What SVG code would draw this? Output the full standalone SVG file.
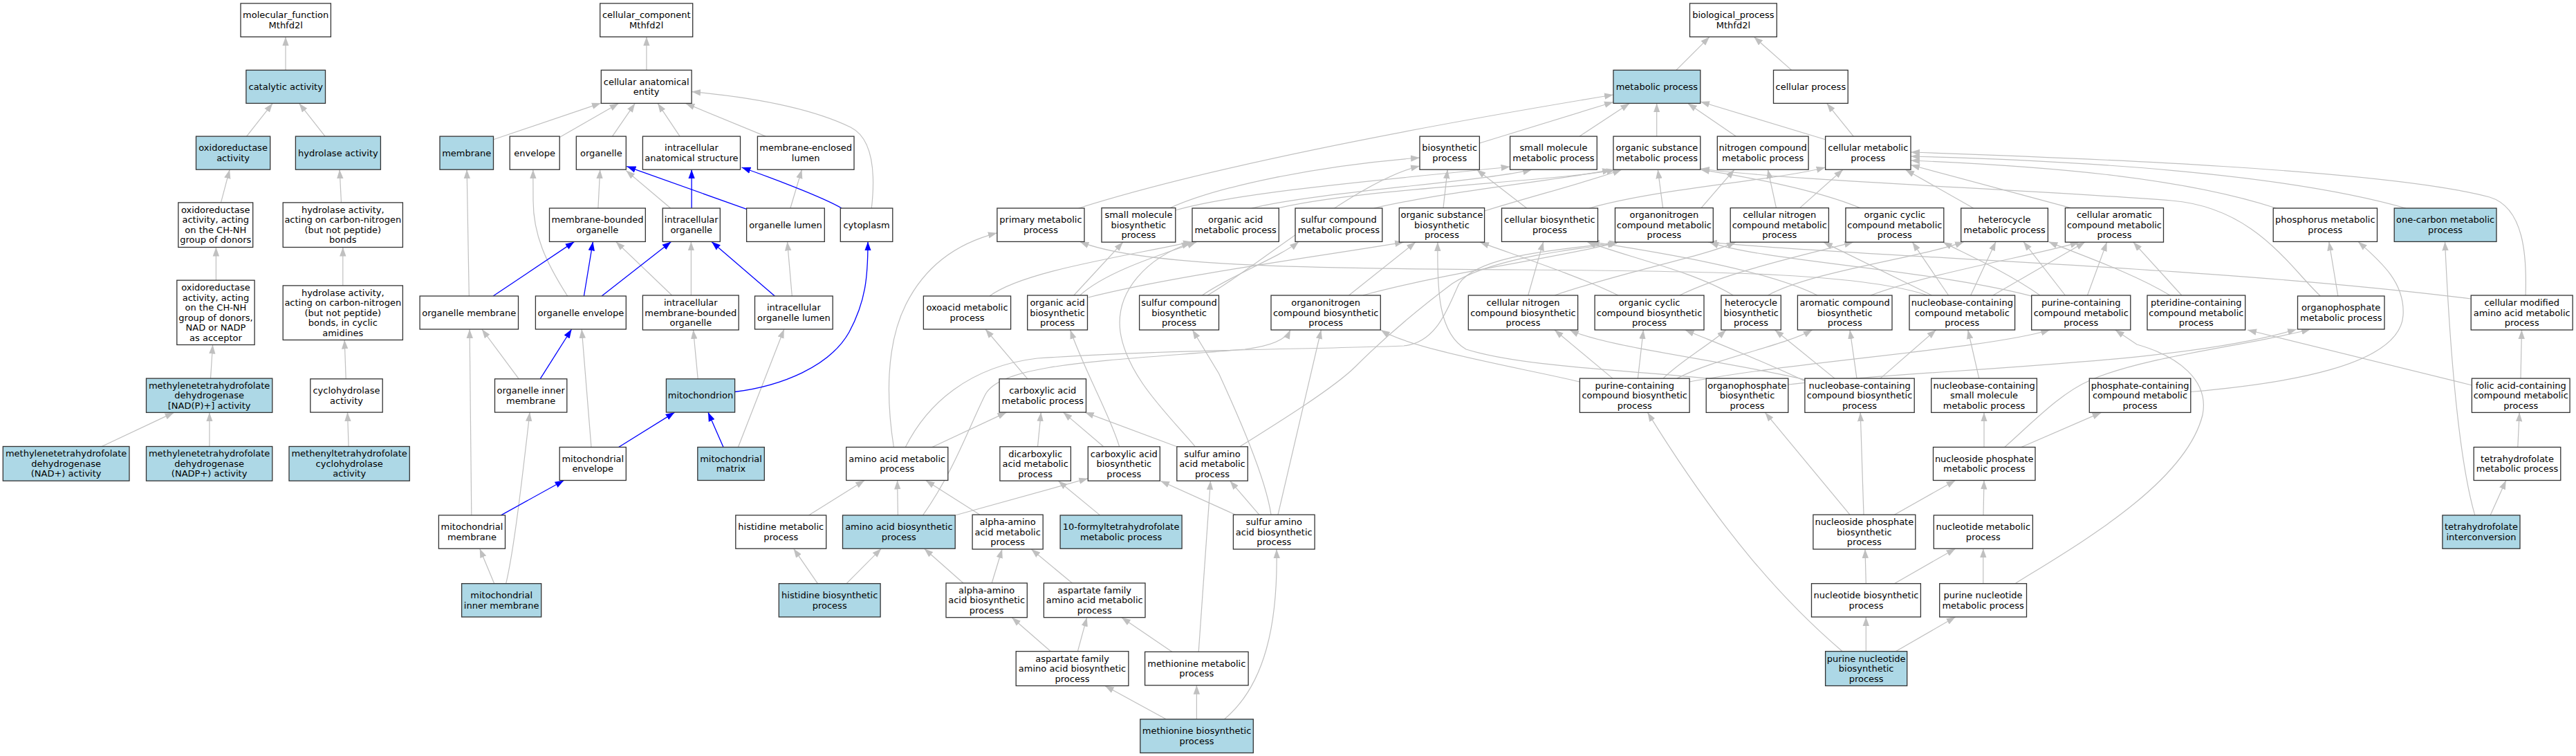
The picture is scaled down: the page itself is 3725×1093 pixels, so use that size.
<svg xmlns="http://www.w3.org/2000/svg" width="3725" height="1093" viewBox="0 0 3725 1093">
<style>
.n rect{fill:#fff;stroke:#333;stroke-width:1.3}
.n.b rect{fill:#add8e6}
.n text{font-family:"DejaVu Sans","Liberation Sans",sans-serif;font-size:13px;text-anchor:middle;fill:#000}
#edges path{fill:none;stroke:#c0c0c0;stroke-width:1.2;marker-end:url(#ag)}
#edges path.bl{stroke:#0000ff;stroke-width:1.3;marker-end:url(#ab)}
</style>
<defs>
<marker id="ag" markerUnits="userSpaceOnUse" markerWidth="14" markerHeight="10" refX="13" refY="5" orient="auto"><path d="M0,0.3 L13,5 L0,9.7 z" fill="#c0c0c0"/></marker>
<marker id="ab" markerUnits="userSpaceOnUse" markerWidth="14" markerHeight="10" refX="13" refY="5" orient="auto"><path d="M0,0.3 L13,5 L0,9.7 z" fill="#0000ff"/></marker>
</defs>
<rect x="0" y="0" width="3725" height="1093" fill="#fff"/>
<g id="edges">
<path d="M413,101.4 L413,53.3"/>
<path d="M356.6,197.1 L394.2,149.4"/>
<path d="M470.1,197.1 L432.6,149.4"/>
<path d="M319.5,292.9 L332.1,245.2"/>
<path d="M493.5,292.9 L491.1,245.2"/>
<path d="M312.4,405.2 L312.4,357.5"/>
<path d="M495.8,412.9 L495.8,357.5"/>
<path d="M304.5,547.1 L307.6,498.5"/>
<path d="M500.2,547.8 L498.2,491.5"/>
<path d="M147.1,645.5 L251.5,596.4"/>
<path d="M302.9,645.5 L302.9,596.4"/>
<path d="M504.1,645.5 L502.5,596.1"/>
<path d="M934.9,101.4 L934.9,53.3"/>
<path d="M713.5,201.7 L868.9,149.1"/>
<path d="M809.2,198.6 L894.6,149.4"/>
<path d="M885.5,197.1 L918.3,149.4"/>
<path d="M983.1,197.1 L951.1,149.4"/>
<path d="M1107.3,197.1 L991.4,149.4"/>
<path d="M1260.3,301 C1266,250 1262,200 1230,184 C1170,155 1080,140 1000.1,132.6"/>
<path d="M864.9,301 L867.7,245.2"/>
<path d="M969.7,301 L905.3,246.6"/>
<path d="M1142.9,301 L1159.5,245.2"/>
<path d="M820.6,428 C790,380 771,340 771,290 L770.8,245.2"/>
<path d="M971.7,427 L890.6,349.4"/>
<path d="M999.4,427 L999.4,349.4"/>
<path d="M1145.3,428 L1138.5,349.4"/>
<path d="M678.3,428 L675.1,245.2"/>
<path d="M750.3,547.8 L696.9,476"/>
<path d="M855,646.5 L841.2,476"/>
<path d="M681.8,744.9 L679.1,476"/>
<path d="M1009.2,547.8 L1002.5,477"/>
<path d="M1067.4,646.5 L1133.8,476"/>
<path d="M714.7,843.7 L693.7,793.2"/>
<path d="M731.7,843.7 C742,800 752,720 766.1,596.1"/>
<path class="bl" d="M1079.6,302.4 L906.4,240.6"/>
<path class="bl" d="M1000.1,301 L1000.1,245.2"/>
<path class="bl" d="M1217,301 C1190,285 1110,255 1072.5,242"/>
<path class="bl" d="M713.1,428 L830.5,349.4"/>
<path class="bl" d="M844.4,428 L857.4,349.4"/>
<path class="bl" d="M870.1,428 L970.5,349.4"/>
<path class="bl" d="M1120.3,428 L1029,349.4"/>
<path class="bl" d="M781.1,547.8 L826.6,476"/>
<path class="bl" d="M1062.6,566.5 C1130,558 1200,530 1228,480 C1252,435 1255,400 1255,349.4"/>
<path class="bl" d="M894.6,646.5 L975.6,596.1"/>
<path class="bl" d="M1046,646.5 L1023.9,596.1"/>
<path class="bl" d="M724.5,744.9 L815.5,694.5"/>
<path d="M2423.9,101.4 L2472,53.3"/>
<path d="M2590.6,101.4 L2536.3,53.3"/>
<path d="M2680.2,197.1 L2641.6,149.4"/>
<path d="M2639.6,201.7 L2459,147"/>
<path d="M2510.2,197.1 L2440.7,149.4"/>
<path d="M2395.7,197.1 L2395.7,149.4"/>
<path d="M2284,197.1 L2356.3,149.4"/>
<path d="M2139.4,207 L2333,147.5"/>
<path d="M1559.6,301 Q1800,225 2333,137"/>
<path d="M1692,300.6 C1760,270 1900,240 2053,228"/>
<path d="M1699.8,304 C1800,275 2060,255 2183.6,241"/>
<path d="M1810,301 C1900,278 2150,262 2215,245.2"/>
<path d="M1840,303 C1960,272 2260,262 2336,245.2"/>
<path d="M1986.7,301 C2100,275 2260,260 2330,245.2"/>
<path d="M2146.6,305 C2210,285 2300,262 2345,245.2"/>
<path d="M2087,300.6 L2093.2,245.2"/>
<path d="M2207.7,301 L2135.4,245.2"/>
<path d="M2298,301 C2400,272 2560,262 2639.6,242"/>
<path d="M2404.6,300.6 L2397.3,245.2"/>
<path d="M2460,300.6 L2508,245.2"/>
<path d="M2568.5,300.6 L2556.4,245.2"/>
<path d="M2602.6,300.6 L2665,245.2"/>
<path d="M2690,300.6 C2620,272 2520,255 2459,245.2"/>
<path d="M2853.8,301 L2755.3,245.2"/>
<path d="M2994.4,300.6 L2763,238.5"/>
<path d="M3291.5,301 C3150,255 2950,240 2763,232"/>
<path d="M3478.8,301 C3300,250 3000,232 2763,226"/>
<path d="M3652.1,427 C3654,370 3650,300 3600,285 C3450,245 3000,228 2763,220"/>
<path d="M3573,432 C3200,385 2700,372 2470,350.1"/>
<path d="M1431,428 C1480,392 1620,372 1724,349.4"/>
<path d="M1561.6,427 C1600,392 1680,368 1730,350.1"/>
<path d="M1552.8,427 L1623.9,350.1"/>
<path d="M1573.7,430 C1700,398 1900,372 2030,350.1"/>
<path d="M1738.4,427 C1780,398 1850,372 1878,349.4"/>
<path d="M1746,427 C1820,385 1960,262 2053,240"/>
<path d="M1970.6,427 C2100,392 2260,372 2340,350.1"/>
<path d="M1950.5,427 L2047,350.1"/>
<path d="M2209.7,427 L2231.8,349.4"/>
<path d="M2248,427 C2350,392 2460,372 2510,350.1"/>
<path d="M2340,427 C2280,398 2200,372 2140,350.1"/>
<path d="M2428.7,427 C2500,392 2620,366 2680,350.1"/>
<path d="M2556.4,427 C2620,392 2780,372 2840,349.4"/>
<path d="M2506.2,427 C2450,392 2340,368 2295,349.4"/>
<path d="M2705,427 C2800,392 2950,368 3006.5,350.1"/>
<path d="M2628,427 C2550,388 2380,362 2300,349.4"/>
<path d="M2793.5,427 L2636.8,350.1"/>
<path d="M2817.6,427 L2765.4,350.1"/>
<path d="M2849.7,427 L2886,349.4"/>
<path d="M2881.9,427 L3015,350.1"/>
<path d="M2986.4,427 L2926,349.4"/>
<path d="M3018.5,427 L3046.6,350.1"/>
<path d="M2950,427 C2900,392 2840,366 2809.6,350.1"/>
<path d="M2945,430 C2800,390 2550,378 2472,350.1"/>
<path d="M3154.8,427 L3084.8,350.1"/>
<path d="M3138,427 C3080,392 3000,366 2962.3,349.4"/>
<path d="M3380.8,428 L3367.8,349.4"/>
<path d="M3355.3,428 C3310,385 3260,300 3140,290 C2900,272 2600,262 2459,244"/>
<path d="M2790,428 C2700,396 2500,392 2200,390 C1900,388 1650,386 1561.6,349.4"/>
<path d="M1486,547.8 L1425,476"/>
<path d="M2443,552 C2600,522 2870,505 2964.3,477"/>
<path d="M2284.4,552 C2200,532 2040,505 1996.7,477"/>
<path d="M2368.4,547.1 L2376.4,477"/>
<path d="M2332,547.1 L2247.9,477"/>
<path d="M2405,547.1 C2430,522 2470,500 2496,477"/>
<path d="M2425,547.1 C2480,518 2580,500 2620.7,477"/>
<path d="M2586,556 C2800,532 3150,528 3321,476"/>
<path d="M2470,547.1 C2350,535 2200,530 2120,505 C2080,482 2078,420 2079,350.1"/>
<path d="M2719,547.1 L2799.5,477"/>
<path d="M2653,547.1 L2566.5,477"/>
<path d="M2685,547.1 L2675,477"/>
<path d="M2612,552 C2550,522 2480,495 2436.7,477"/>
<path d="M2615,550 C2500,522 2320,502 2270,477"/>
<path d="M2861.8,547.1 L2845.7,477"/>
<path d="M3167.8,566.5 C3300,555 3470,530 3475,456 C3478,410 3445,380 3410,349.4"/>
<path d="M3574.4,557 L3250,477"/>
<path d="M3645,547.1 L3646.5,477"/>
<path d="M1347.9,646.5 L1455.5,596.1"/>
<path d="M1292.4,646.5 C1282,580 1280,500 1310,440 C1340,380 1390,350 1441.9,336.8"/>
<path d="M1309.3,646.5 C1340,585 1400,530 1500,518 C1700,505 1900,505 2030,500 C2080,495 2095,440 2110,410 C2140,365 2280,360 2340,350.1"/>
<path d="M1500.5,645.8 L1505.4,596.1"/>
<path d="M1595.8,645.8 L1537.5,596.1"/>
<path d="M1618.7,645.8 C1605,600 1570,540 1547.6,477"/>
<path d="M1701.8,645.8 L1568.8,596.1"/>
<path d="M1728.4,645.8 C1690,600 1630,545 1620,480 C1612,420 1660,372 1722,351"/>
<path d="M1792.7,645.8 C1850,610 1930,560 1960,530 C2010,480 2060,440 2100,410 C2160,372 2280,360 2338,352"/>
<path d="M2869,646.5 L2869,596.4"/>
<path d="M2922.9,646.5 L3038.6,596.4"/>
<path d="M2898.8,646.5 C2940,610 2980,568 3022,550 C3100,515 3250,500 3341,476"/>
<path d="M3640.8,646.5 L3643.2,596.4"/>
<path d="M1169.4,744.9 L1250.2,694.5"/>
<path d="M1298.4,744.9 L1297.6,694.5"/>
<path d="M1381.2,745 L1573.3,691.7"/>
<path d="M1334.6,744.9 C1380,680 1400,620 1425,570 C1450,525 1600,522 1800,505 C1840,500 1860,490 1866,477"/>
<path d="M1417,744.2 L1338.6,694.5"/>
<path d="M1590.6,744.9 L1530.3,695.2"/>
<path d="M1820.8,744.2 L1778.6,695.2"/>
<path d="M1786.6,744.2 L1678.1,695.2"/>
<path d="M1838,744.2 C1830,690 1790,600 1762.5,540 L1724.4,477"/>
<path d="M1848,744.2 L1910.4,477"/>
<path d="M2675,744.2 L2552.4,596.4"/>
<path d="M2695,744.2 L2690.2,596.4"/>
<path d="M2739.3,744.2 L2827.6,694.5"/>
<path d="M2868,744.9 L2869,694.5"/>
<path d="M3601.1,744.9 L3623.8,694.5"/>
<path d="M3578.8,744.9 C3560,680 3545,560 3535.5,349.4"/>
<path d="M1182.4,843.7 L1147.6,793.2"/>
<path d="M1224.1,843.7 L1274.3,793.2"/>
<path d="M1392.9,843 L1336.6,793.2"/>
<path d="M1434.2,843 L1449.1,794"/>
<path d="M1550.4,843 L1491.3,794"/>
<path d="M2698.3,843.7 L2697,794"/>
<path d="M2739.3,843.7 L2827.6,793.2"/>
<path d="M2867.8,843.7 L2867.8,793.2"/>
<path d="M2914,843.7 C3000,790 3160,700 3185,600 C3195,550 3150,515 3090,498 L3058.7,477"/>
<path d="M1519.4,941.7 L1463.2,892.7"/>
<path d="M1558.4,941.7 L1571.7,892.7"/>
<path d="M1695,942.4 L1621.9,892.7"/>
<path d="M1733.2,942.4 L1750.5,695.2"/>
<path d="M2698.3,941.7 L2698.3,892"/>
<path d="M2741.3,941.7 L2827.6,892"/>
<path d="M2664.1,941.7 C2580,870 2490,770 2382.5,596.4"/>
<path d="M1686.2,1039.8 L1597.8,991.5"/>
<path d="M1730.4,1039.8 L1730.4,990.8"/>
<path d="M1770.5,1039.8 C1830,990 1848,900 1846,794"/>
</g>
<g id="mf_root" class="n"><rect x="348" y="4.9" width="130.4" height="48.4"/><text><tspan x="413.2" y="26.35">molecular_function</tspan><tspan x="413.2" y="40.85">Mthfd2l</tspan></text></g>
<g id="catalytic" class="n b"><rect x="355.9" y="101.4" width="114.6" height="48"/><text><tspan x="413.2" y="129.9">catalytic activity</tspan></text></g>
<g id="oxido" class="n b"><rect x="283.5" y="197.1" width="107.2" height="48.1"/><text><tspan x="337.1" y="218.4">oxidoreductase</tspan><tspan x="337.1" y="232.9">activity</tspan></text></g>
<g id="hydrolase" class="n b"><rect x="427.4" y="197.1" width="123" height="48.1"/><text><tspan x="488.9" y="225.65">hydrolase activity</tspan></text></g>
<g id="ox_chnh" class="n"><rect x="257.8" y="292.9" width="107.9" height="64.6"/><text><tspan x="311.75" y="307.95">oxidoreductase</tspan><tspan x="311.75" y="322.45">activity, acting</tspan><tspan x="311.75" y="336.95">on the CH-NH</tspan><tspan x="311.75" y="351.45">group of donors</tspan></text></g>
<g id="hyd_cn" class="n"><rect x="409.2" y="292.9" width="173.2" height="64.6"/><text><tspan x="495.8" y="307.95">hydrolase activity,</tspan><tspan x="495.8" y="322.45">acting on carbon-nitrogen</tspan><tspan x="495.8" y="336.95">(but not peptide)</tspan><tspan x="495.8" y="351.45">bonds</tspan></text></g>
<g id="ox_nad" class="n"><rect x="255.8" y="405.2" width="112.3" height="93.3"/><text><tspan x="311.95" y="420.1">oxidoreductase</tspan><tspan x="311.95" y="434.6">activity, acting</tspan><tspan x="311.95" y="449.1">on the CH-NH</tspan><tspan x="311.95" y="463.6">group of donors,</tspan><tspan x="311.95" y="478.1">NAD or NADP</tspan><tspan x="311.95" y="492.6">as acceptor</tspan></text></g>
<g id="hyd_cyc" class="n"><rect x="409.2" y="412.9" width="173.2" height="78.6"/><text><tspan x="495.8" y="427.7">hydrolase activity,</tspan><tspan x="495.8" y="442.2">acting on carbon-nitrogen</tspan><tspan x="495.8" y="456.7">(but not peptide)</tspan><tspan x="495.8" y="471.2">bonds, in cyclic</tspan><tspan x="495.8" y="485.7">amidines</tspan></text></g>
<g id="mthfd_nadp_plus" class="n b"><rect x="211.5" y="547.1" width="182.3" height="49.3"/><text><tspan x="302.65" y="561.75">methylenetetrahydrofolate</tspan><tspan x="302.65" y="576.25">dehydrogenase</tspan><tspan x="302.65" y="590.75">[NAD(P)+] activity</tspan></text></g>
<g id="cyclohydrolase" class="n"><rect x="448.8" y="547.8" width="104.4" height="48.3"/><text><tspan x="501" y="569.2">cyclohydrolase</tspan><tspan x="501" y="583.7">activity</tspan></text></g>
<g id="mthfd_nad" class="n b"><rect x="4.3" y="645.5" width="182.7" height="49.7"/><text><tspan x="95.65" y="660.35">methylenetetrahydrofolate</tspan><tspan x="95.65" y="674.85">dehydrogenase</tspan><tspan x="95.65" y="689.35">(NAD+) activity</tspan></text></g>
<g id="mthfd_nadp" class="n b"><rect x="211.5" y="645.5" width="182.3" height="49.7"/><text><tspan x="302.65" y="660.35">methylenetetrahydrofolate</tspan><tspan x="302.65" y="674.85">dehydrogenase</tspan><tspan x="302.65" y="689.35">(NADP+) activity</tspan></text></g>
<g id="methenyl" class="n b"><rect x="418" y="645.5" width="174.3" height="49.7"/><text><tspan x="505.15" y="660.35">methenyltetrahydrofolate</tspan><tspan x="505.15" y="674.85">cyclohydrolase</tspan><tspan x="505.15" y="689.35">activity</tspan></text></g>
<g id="cc_root" class="n"><rect x="867.7" y="4.9" width="134" height="48.4"/><text><tspan x="934.7" y="26.35">cellular_component</tspan><tspan x="934.7" y="40.85">Mthfd2l</tspan></text></g>
<g id="cae" class="n"><rect x="869.3" y="101.4" width="130.8" height="48"/><text><tspan x="934.7" y="122.65">cellular anatomical</tspan><tspan x="934.7" y="137.15">entity</tspan></text></g>
<g id="membrane" class="n b"><rect x="636" y="197.1" width="77.5" height="48.1"/><text><tspan x="674.75" y="225.65">membrane</tspan></text></g>
<g id="envelope" class="n"><rect x="737.2" y="197.1" width="72" height="48.1"/><text><tspan x="773.2" y="225.65">envelope</tspan></text></g>
<g id="organelle" class="n"><rect x="833.3" y="197.1" width="72" height="48.1"/><text><tspan x="869.3" y="225.65">organelle</tspan></text></g>
<g id="ias" class="n"><rect x="929.4" y="197.1" width="141.1" height="48.1"/><text><tspan x="999.95" y="218.4">intracellular</tspan><tspan x="999.95" y="232.9">anatomical structure</tspan></text></g>
<g id="mel" class="n"><rect x="1095.4" y="197.1" width="139.6" height="48.1"/><text><tspan x="1165.2" y="218.4">membrane-enclosed</tspan><tspan x="1165.2" y="232.9">lumen</tspan></text></g>
<g id="mbo" class="n"><rect x="794.5" y="301" width="138.8" height="48.4"/><text><tspan x="863.9" y="322.45">membrane-bounded</tspan><tspan x="863.9" y="336.95">organelle</tspan></text></g>
<g id="io" class="n"><rect x="958.2" y="301" width="83.1" height="48.4"/><text><tspan x="999.75" y="322.45">intracellular</tspan><tspan x="999.75" y="336.95">organelle</tspan></text></g>
<g id="olumen" class="n"><rect x="1079.6" y="301" width="112.7" height="48.4"/><text><tspan x="1135.95" y="329.7">organelle lumen</tspan></text></g>
<g id="cytoplasm" class="n"><rect x="1215.3" y="301" width="75.5" height="48.4"/><text><tspan x="1253.05" y="329.7">cytoplasm</tspan></text></g>
<g id="omembrane" class="n"><rect x="607.1" y="428" width="142.4" height="48"/><text><tspan x="678.3" y="456.5">organelle membrane</tspan></text></g>
<g id="oenvelope" class="n"><rect x="774.4" y="428" width="130.9" height="48"/><text><tspan x="839.85" y="456.5">organelle envelope</tspan></text></g>
<g id="imbo" class="n"><rect x="929.4" y="427" width="138.8" height="50"/><text><tspan x="998.8" y="442">intracellular</tspan><tspan x="998.8" y="456.5">membrane-bounded</tspan><tspan x="998.8" y="471">organelle</tspan></text></g>
<g id="iol" class="n"><rect x="1091.5" y="428" width="112.7" height="48"/><text><tspan x="1147.85" y="449.25">intracellular</tspan><tspan x="1147.85" y="463.75">organelle lumen</tspan></text></g>
<g id="oim" class="n"><rect x="715.5" y="547.8" width="104.3" height="48.3"/><text><tspan x="767.65" y="569.2">organelle inner</tspan><tspan x="767.65" y="583.7">membrane</tspan></text></g>
<g id="mitochondrion" class="n b"><rect x="963.4" y="547.8" width="99.2" height="48.3"/><text><tspan x="1013" y="576.45">mitochondrion</tspan></text></g>
<g id="mito_env" class="n"><rect x="809.2" y="646.5" width="96.1" height="48"/><text><tspan x="857.25" y="667.75">mitochondrial</tspan><tspan x="857.25" y="682.25">envelope</tspan></text></g>
<g id="mito_matrix" class="n b"><rect x="1008.8" y="646.5" width="96.5" height="48"/><text><tspan x="1057.05" y="667.75">mitochondrial</tspan><tspan x="1057.05" y="682.25">matrix</tspan></text></g>
<g id="mito_mem" class="n"><rect x="634.4" y="744.9" width="96.1" height="48.3"/><text><tspan x="682.45" y="766.3">mitochondrial</tspan><tspan x="682.45" y="780.8">membrane</tspan></text></g>
<g id="mim" class="n b"><rect x="667.6" y="843.7" width="115.1" height="48.3"/><text><tspan x="725.15" y="865.1">mitochondrial</tspan><tspan x="725.15" y="879.6">inner membrane</tspan></text></g>
<g id="bp_root" class="n"><rect x="2443.5" y="4.9" width="125.8" height="48.4"/><text><tspan x="2506.4" y="26.35">biological_process</tspan><tspan x="2506.4" y="40.85">Mthfd2l</tspan></text></g>
<g id="metabolic" class="n b"><rect x="2333" y="101.4" width="125.8" height="48"/><text><tspan x="2395.9" y="129.9">metabolic process</tspan></text></g>
<g id="cellular_process" class="n"><rect x="2564.5" y="101.4" width="107.7" height="48"/><text><tspan x="2618.35" y="129.9">cellular process</tspan></text></g>
<g id="biosynthetic" class="n"><rect x="2053" y="197.1" width="86.4" height="48.1"/><text><tspan x="2096.2" y="218.4">biosynthetic</tspan><tspan x="2096.2" y="232.9">process</tspan></text></g>
<g id="small_mol_met" class="n"><rect x="2183.6" y="197.1" width="125.7" height="48.1"/><text><tspan x="2246.45" y="218.4">small molecule</tspan><tspan x="2246.45" y="232.9">metabolic process</tspan></text></g>
<g id="org_sub_met" class="n"><rect x="2333" y="197.1" width="125.8" height="48.1"/><text><tspan x="2395.9" y="218.4">organic substance</tspan><tspan x="2395.9" y="232.9">metabolic process</tspan></text></g>
<g id="nitrogen_met" class="n"><rect x="2483.3" y="197.1" width="131.8" height="48.1"/><text><tspan x="2549.2" y="218.4">nitrogen compound</tspan><tspan x="2549.2" y="232.9">metabolic process</tspan></text></g>
<g id="cell_met" class="n"><rect x="2639.6" y="197.1" width="123.4" height="48.1"/><text><tspan x="2701.3" y="218.4">cellular metabolic</tspan><tspan x="2701.3" y="232.9">process</tspan></text></g>
<g id="primary_met" class="n"><rect x="1441.9" y="301" width="126.1" height="48.4"/><text><tspan x="1504.95" y="322.45">primary metabolic</tspan><tspan x="1504.95" y="336.95">process</tspan></text></g>
<g id="small_mol_bio" class="n"><rect x="1593" y="300.6" width="106.8" height="49.5"/><text><tspan x="1646.4" y="315.35">small molecule</tspan><tspan x="1646.4" y="329.85">biosynthetic</tspan><tspan x="1646.4" y="344.35">process</tspan></text></g>
<g id="org_acid_met" class="n"><rect x="1724" y="301" width="125.3" height="48.4"/><text><tspan x="1786.65" y="322.45">organic acid</tspan><tspan x="1786.65" y="336.95">metabolic process</tspan></text></g>
<g id="sulfur_cmp_met" class="n"><rect x="1873" y="301" width="125.8" height="48.4"/><text><tspan x="1935.9" y="322.45">sulfur compound</tspan><tspan x="1935.9" y="336.95">metabolic process</tspan></text></g>
<g id="org_sub_bio" class="n"><rect x="2023.3" y="300.6" width="123.3" height="49.5"/><text><tspan x="2084.95" y="315.35">organic substance</tspan><tspan x="2084.95" y="329.85">biosynthetic</tspan><tspan x="2084.95" y="344.35">process</tspan></text></g>
<g id="cell_bio" class="n"><rect x="2171.5" y="301" width="139" height="48.4"/><text><tspan x="2241" y="322.45">cellular biosynthetic</tspan><tspan x="2241" y="336.95">process</tspan></text></g>
<g id="orgN_met" class="n"><rect x="2335.5" y="300.6" width="141.8" height="49.5"/><text><tspan x="2406.4" y="315.35">organonitrogen</tspan><tspan x="2406.4" y="329.85">compound metabolic</tspan><tspan x="2406.4" y="344.35">process</tspan></text></g>
<g id="cellN_met" class="n"><rect x="2502.2" y="300.6" width="142.2" height="49.5"/><text><tspan x="2573.3" y="315.35">cellular nitrogen</tspan><tspan x="2573.3" y="329.85">compound metabolic</tspan><tspan x="2573.3" y="344.35">process</tspan></text></g>
<g id="orgcyc_met" class="n"><rect x="2668.9" y="300.6" width="141.9" height="49.5"/><text><tspan x="2739.85" y="315.35">organic cyclic</tspan><tspan x="2739.85" y="329.85">compound metabolic</tspan><tspan x="2739.85" y="344.35">process</tspan></text></g>
<g id="hetero_met" class="n"><rect x="2835.7" y="301" width="125.7" height="48.4"/><text><tspan x="2898.55" y="322.45">heterocycle</tspan><tspan x="2898.55" y="336.95">metabolic process</tspan></text></g>
<g id="arom_met" class="n"><rect x="2986.4" y="300.6" width="142.1" height="49.5"/><text><tspan x="3057.45" y="315.35">cellular aromatic</tspan><tspan x="3057.45" y="329.85">compound metabolic</tspan><tspan x="3057.45" y="344.35">process</tspan></text></g>
<g id="phosphorus_met" class="n"><rect x="3287.2" y="301" width="150.3" height="48.4"/><text><tspan x="3362.35" y="322.45">phosphorus metabolic</tspan><tspan x="3362.35" y="336.95">process</tspan></text></g>
<g id="one_carbon" class="n b"><rect x="3462.2" y="301" width="147.8" height="48.4"/><text><tspan x="3536.1" y="322.45">one-carbon metabolic</tspan><tspan x="3536.1" y="336.95">process</tspan></text></g>
<g id="oxoacid" class="n"><rect x="1335.4" y="428" width="126.2" height="48"/><text><tspan x="1398.5" y="449.25">oxoacid metabolic</tspan><tspan x="1398.5" y="463.75">process</tspan></text></g>
<g id="org_acid_bio" class="n"><rect x="1485.7" y="427" width="86.8" height="50"/><text><tspan x="1529.1" y="442">organic acid</tspan><tspan x="1529.1" y="456.5">biosynthetic</tspan><tspan x="1529.1" y="471">process</tspan></text></g>
<g id="sulfur_cmp_bio" class="n"><rect x="1647.6" y="427" width="114.9" height="50"/><text><tspan x="1705.05" y="442">sulfur compound</tspan><tspan x="1705.05" y="456.5">biosynthetic</tspan><tspan x="1705.05" y="471">process</tspan></text></g>
<g id="orgN_bio" class="n"><rect x="1838" y="427" width="158.3" height="50"/><text><tspan x="1917.15" y="442">organonitrogen</tspan><tspan x="1917.15" y="456.5">compound biosynthetic</tspan><tspan x="1917.15" y="471">process</tspan></text></g>
<g id="cellN_bio" class="n"><rect x="2123.3" y="427" width="158.3" height="50"/><text><tspan x="2202.45" y="442">cellular nitrogen</tspan><tspan x="2202.45" y="456.5">compound biosynthetic</tspan><tspan x="2202.45" y="471">process</tspan></text></g>
<g id="orgcyc_bio" class="n"><rect x="2306.1" y="427" width="157.9" height="50"/><text><tspan x="2385.05" y="442">organic cyclic</tspan><tspan x="2385.05" y="456.5">compound biosynthetic</tspan><tspan x="2385.05" y="471">process</tspan></text></g>
<g id="hetero_bio" class="n"><rect x="2488.9" y="427" width="86.4" height="50"/><text><tspan x="2532.1" y="442">heterocycle</tspan><tspan x="2532.1" y="456.5">biosynthetic</tspan><tspan x="2532.1" y="471">process</tspan></text></g>
<g id="arom_bio" class="n"><rect x="2599.4" y="427" width="136.6" height="50"/><text><tspan x="2667.7" y="442">aromatic compound</tspan><tspan x="2667.7" y="456.5">biosynthetic</tspan><tspan x="2667.7" y="471">process</tspan></text></g>
<g id="nb_met" class="n"><rect x="2761" y="427" width="152.6" height="50"/><text><tspan x="2837.3" y="442">nucleobase-containing</tspan><tspan x="2837.3" y="456.5">compound metabolic</tspan><tspan x="2837.3" y="471">process</tspan></text></g>
<g id="purine_met" class="n"><rect x="2937.7" y="427" width="143.1" height="50"/><text><tspan x="3009.25" y="442">purine-containing</tspan><tspan x="3009.25" y="456.5">compound metabolic</tspan><tspan x="3009.25" y="471">process</tspan></text></g>
<g id="pteridine" class="n"><rect x="3105" y="427" width="141.7" height="50"/><text><tspan x="3175.85" y="442">pteridine-containing</tspan><tspan x="3175.85" y="456.5">compound metabolic</tspan><tspan x="3175.85" y="471">process</tspan></text></g>
<g id="organophosphate_met" class="n"><rect x="3322.5" y="428" width="125.5" height="48"/><text><tspan x="3385.25" y="449.25">organophosphate</tspan><tspan x="3385.25" y="463.75">metabolic process</tspan></text></g>
<g id="cell_mod_aa" class="n"><rect x="3573.2" y="427" width="147" height="50"/><text><tspan x="3646.7" y="442">cellular modified</tspan><tspan x="3646.7" y="456.5">amino acid metabolic</tspan><tspan x="3646.7" y="471">process</tspan></text></g>
<g id="carboxylic_met" class="n"><rect x="1445.1" y="547.8" width="125.4" height="48.3"/><text><tspan x="1507.8" y="569.2">carboxylic acid</tspan><tspan x="1507.8" y="583.7">metabolic process</tspan></text></g>
<g id="purine_bio" class="n"><rect x="2284.4" y="547.1" width="158.7" height="49.3"/><text><tspan x="2363.75" y="561.75">purine-containing</tspan><tspan x="2363.75" y="576.25">compound biosynthetic</tspan><tspan x="2363.75" y="590.75">process</tspan></text></g>
<g id="organophosphate_bio" class="n"><rect x="2467.2" y="547.1" width="118.6" height="49.3"/><text><tspan x="2526.5" y="561.75">organophosphate</tspan><tspan x="2526.5" y="576.25">biosynthetic</tspan><tspan x="2526.5" y="590.75">process</tspan></text></g>
<g id="nb_bio" class="n"><rect x="2609.9" y="547.1" width="158.3" height="49.3"/><text><tspan x="2689.05" y="561.75">nucleobase-containing</tspan><tspan x="2689.05" y="576.25">compound biosynthetic</tspan><tspan x="2689.05" y="590.75">process</tspan></text></g>
<g id="nb_small" class="n"><rect x="2792.7" y="547.1" width="152.7" height="49.3"/><text><tspan x="2869.05" y="561.75">nucleobase-containing</tspan><tspan x="2869.05" y="576.25">small molecule</tspan><tspan x="2869.05" y="590.75">metabolic process</tspan></text></g>
<g id="phosphate_met" class="n"><rect x="3021.3" y="547.1" width="146.5" height="49.3"/><text><tspan x="3094.55" y="561.75">phosphate-containing</tspan><tspan x="3094.55" y="576.25">compound metabolic</tspan><tspan x="3094.55" y="590.75">process</tspan></text></g>
<g id="folic" class="n"><rect x="3574.4" y="547.1" width="141.7" height="49.3"/><text><tspan x="3645.25" y="561.75">folic acid-containing</tspan><tspan x="3645.25" y="576.25">compound metabolic</tspan><tspan x="3645.25" y="590.75">process</tspan></text></g>
<g id="aa_met" class="n"><rect x="1223.7" y="646.5" width="147.1" height="48"/><text><tspan x="1297.25" y="667.75">amino acid metabolic</tspan><tspan x="1297.25" y="682.25">process</tspan></text></g>
<g id="dicarboxylic" class="n"><rect x="1445.9" y="645.8" width="102.5" height="49.4"/><text><tspan x="1497.15" y="660.5">dicarboxylic</tspan><tspan x="1497.15" y="675">acid metabolic</tspan><tspan x="1497.15" y="689.5">process</tspan></text></g>
<g id="carboxylic_bio" class="n"><rect x="1573.3" y="645.8" width="104" height="49.4"/><text><tspan x="1625.3" y="660.5">carboxylic acid</tspan><tspan x="1625.3" y="675">biosynthetic</tspan><tspan x="1625.3" y="689.5">process</tspan></text></g>
<g id="sulfur_aa_met" class="n"><rect x="1701.8" y="645.8" width="102.5" height="49.4"/><text><tspan x="1753.05" y="660.5">sulfur amino</tspan><tspan x="1753.05" y="675">acid metabolic</tspan><tspan x="1753.05" y="689.5">process</tspan></text></g>
<g id="nsp_met" class="n"><rect x="2795.5" y="646.5" width="147.5" height="48"/><text><tspan x="2869.25" y="667.75">nucleoside phosphate</tspan><tspan x="2869.25" y="682.25">metabolic process</tspan></text></g>
<g id="thf_met" class="n"><rect x="3577.2" y="646.5" width="125.6" height="48"/><text><tspan x="3640" y="667.75">tetrahydrofolate</tspan><tspan x="3640" y="682.25">metabolic process</tspan></text></g>
<g id="histidine_met" class="n"><rect x="1063.8" y="744.9" width="130.9" height="48.3"/><text><tspan x="1129.25" y="766.3">histidine metabolic</tspan><tspan x="1129.25" y="780.8">process</tspan></text></g>
<g id="aa_bio" class="n b"><rect x="1218.5" y="744.9" width="162.7" height="48.3"/><text><tspan x="1299.85" y="766.3">amino acid biosynthetic</tspan><tspan x="1299.85" y="780.8">process</tspan></text></g>
<g id="alpha_met" class="n"><rect x="1406.1" y="744.2" width="102.1" height="49.8"/><text><tspan x="1457.15" y="759.1">alpha-amino</tspan><tspan x="1457.15" y="773.6">acid metabolic</tspan><tspan x="1457.15" y="788.1">process</tspan></text></g>
<g id="formyl" class="n b"><rect x="1533.1" y="744.9" width="176" height="48.3"/><text><tspan x="1621.1" y="766.3">10-formyltetrahydrofolate</tspan><tspan x="1621.1" y="780.8">metabolic process</tspan></text></g>
<g id="sulfur_aa_bio" class="n"><rect x="1783.4" y="744.2" width="117.7" height="49.8"/><text><tspan x="1842.25" y="759.1">sulfur amino</tspan><tspan x="1842.25" y="773.6">acid biosynthetic</tspan><tspan x="1842.25" y="788.1">process</tspan></text></g>
<g id="nsp_bio" class="n"><rect x="2621.9" y="744.2" width="147.9" height="49.8"/><text><tspan x="2695.85" y="759.1">nucleoside phosphate</tspan><tspan x="2695.85" y="773.6">biosynthetic</tspan><tspan x="2695.85" y="788.1">process</tspan></text></g>
<g id="nucleotide_met" class="n"><rect x="2796.3" y="744.9" width="143.1" height="48.3"/><text><tspan x="2867.85" y="766.3">nucleotide metabolic</tspan><tspan x="2867.85" y="780.8">process</tspan></text></g>
<g id="thf_inter" class="n b"><rect x="3531.9" y="744.9" width="112.1" height="48.3"/><text><tspan x="3587.95" y="766.3">tetrahydrofolate</tspan><tspan x="3587.95" y="780.8">interconversion</tspan></text></g>
<g id="histidine_bio" class="n b"><rect x="1126.3" y="843.7" width="146.8" height="48.3"/><text><tspan x="1199.7" y="865.1">histidine biosynthetic</tspan><tspan x="1199.7" y="879.6">process</tspan></text></g>
<g id="alpha_bio" class="n"><rect x="1368" y="843" width="117.3" height="49.7"/><text><tspan x="1426.65" y="857.85">alpha-amino</tspan><tspan x="1426.65" y="872.35">acid biosynthetic</tspan><tspan x="1426.65" y="886.85">process</tspan></text></g>
<g id="asp_met" class="n"><rect x="1509.4" y="843" width="146.6" height="49.7"/><text><tspan x="1582.7" y="857.85">aspartate family</tspan><tspan x="1582.7" y="872.35">amino acid metabolic</tspan><tspan x="1582.7" y="886.85">process</tspan></text></g>
<g id="nucleotide_bio" class="n"><rect x="2619.5" y="843.7" width="157.9" height="48.3"/><text><tspan x="2698.45" y="865.1">nucleotide biosynthetic</tspan><tspan x="2698.45" y="879.6">process</tspan></text></g>
<g id="purine_nt_met" class="n"><rect x="2804.7" y="843.7" width="125.8" height="48.3"/><text><tspan x="2867.6" y="865.1">purine nucleotide</tspan><tspan x="2867.6" y="879.6">metabolic process</tspan></text></g>
<g id="asp_bio" class="n"><rect x="1469.2" y="941.7" width="162.7" height="49.8"/><text><tspan x="1550.55" y="956.6">aspartate family</tspan><tspan x="1550.55" y="971.1">amino acid biosynthetic</tspan><tspan x="1550.55" y="985.6">process</tspan></text></g>
<g id="methionine_met" class="n"><rect x="1655.6" y="942.4" width="149.5" height="48.4"/><text><tspan x="1730.35" y="963.85">methionine metabolic</tspan><tspan x="1730.35" y="978.35">process</tspan></text></g>
<g id="purine_nt_bio" class="n b"><rect x="2639.6" y="941.7" width="118.1" height="49.8"/><text><tspan x="2698.65" y="956.6">purine nucleotide</tspan><tspan x="2698.65" y="971.1">biosynthetic</tspan><tspan x="2698.65" y="985.6">process</tspan></text></g>
<g id="methionine_bio" class="n b"><rect x="1648.8" y="1039.8" width="163.5" height="48.7"/><text><tspan x="1730.55" y="1061.4">methionine biosynthetic</tspan><tspan x="1730.55" y="1075.9">process</tspan></text></g>
</svg>
